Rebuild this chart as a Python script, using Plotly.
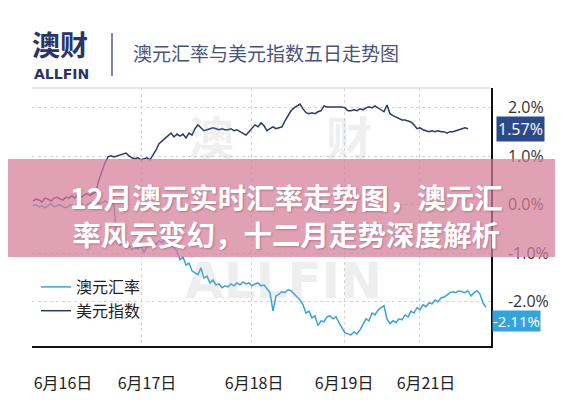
import plotly.graph_objects as go

# ---------------- data ----------------
series_names = ["澳元汇率", "美元指数"]

# percentage change, sampled at equal intervals over the five trading days
aud_rate = [
    -0.02, 0.00, -0.04, -0.02, -0.06, -0.02, 0.02, -0.04, -0.02, 0.00,
    -0.04, -0.06, -0.02, 0.00, -0.04, -0.02, 0.02, -0.02, 0.00, 0.04,
    0.02, 0.06, 0.02, 0.04, 0.08, 0.04, 0.06, 0.02, -0.78, -0.84,
    -0.80, -0.89, -0.85, -0.93, -0.87, -0.91, -0.82, -0.99, -0.85, -0.80,
    -0.76, -0.82, -0.74, -0.78, -0.72, -0.74, -0.82, -0.89, -0.95, -1.13,
    -1.07, -1.24, -1.20, -1.36, -1.40, -1.44, -1.30, -1.51, -1.47, -1.61,
    -1.55, -1.65, -1.63, -1.71, -1.67, -1.69, -1.63, -1.67, -1.61, -1.65,
    -1.59, -1.63, -1.61, -1.67, -1.63, -1.61, -1.67, -1.65, -1.73, -1.81,
    -2.19, -1.88, -1.84, -1.79, -1.81, -1.75, -1.77, -1.84, -1.90, -1.96,
    -2.06, -2.23, -2.19, -2.33, -2.29, -2.49, -2.39, -2.41, -2.31, -2.29,
    -2.35, -2.31, -2.43, -2.54, -2.64, -2.66, -2.68, -2.62, -2.66, -2.58,
    -2.47, -2.35, -2.39, -2.23, -2.27, -2.17, -2.12, -2.08, -2.35, -2.45,
    -2.39, -2.43, -2.35, -2.37, -2.27, -2.31, -2.19, -2.23, -2.12, -2.16,
    -2.06, -2.10, -2.02, -2.04, -1.96, -2.00, -1.92, -1.90, -1.86, -1.81,
    -1.79, -1.81, -1.77, -1.79, -1.81, -1.77, -1.88, -1.81, -1.77, -1.84,
    -2.02, -2.11,
]

usd_index = [
    0.08, 0.12, 0.10, 0.06, 0.14, 0.12, 0.08, 0.14, 0.16, 0.12,
    0.10, 0.16, 0.14, 0.19, 0.14, 0.21, 0.16, 0.19, 0.23, 0.19,
    0.23, 0.27, 0.52, 0.72, 0.87, 0.99, 1.01, 0.99, 1.01, 1.03,
    1.05, 1.07, 1.01, 0.97, 0.95, 0.97, 0.93, 0.95, 0.97, 0.93,
    1.03, 1.13, 1.26, 1.32, 1.36, 1.42, 1.48, 1.40, 1.46, 1.42,
    1.46, 1.38, 1.48, 1.44, 1.57, 1.65, 1.59, 1.53, 1.55, 1.57,
    1.59, 1.57, 1.55, 1.57, 1.55, 1.55, 1.57, 1.53, 1.55, 1.51,
    1.48, 1.44, 1.51, 1.57, 1.65, 1.61, 1.69, 1.63, 1.53, 1.57,
    1.61, 1.57, 1.59, 1.61, 1.73, 1.84, 1.94, 2.00, 2.04, 2.08,
    1.98, 1.90, 1.88, 1.90, 1.88, 1.92, 1.94, 2.04, 2.02, 2.02,
    2.02, 2.02, 2.02, 2.02, 2.00, 1.94, 1.94, 1.96, 1.94, 1.98,
    1.96, 2.00, 2.02, 2.00, 2.04, 2.00, 1.96, 1.92, 2.06, 1.88,
    1.84, 1.81, 1.79, 1.75, 1.75, 1.73, 1.71, 1.65, 1.57, 1.59,
    1.55, 1.53, 1.51, 1.53, 1.51, 1.53, 1.51, 1.51, 1.48, 1.51,
    1.51, 1.53, 1.55, 1.57, 1.59, 1.57,
]

tick_labels = ["6月16日", "6月17日", "6月18日", "6月19日", "6月21日"]
label_sample_idx = [10, 38, 73.7, 103.7, 131]      # where the date labels sit
day_start_idx = [0, 36.3, 72.7, 103.7, 128.7]       # day boundaries (grid)
y_ticks = [2, 1, 0, -1, -2]

title_text = "澳元汇率与美元指数五日走势图"
banner_lines = ["12月澳元实时汇率走势图，澳元汇", "率风云变幻，十二月走势深度解析"]

# ---------------- styling ----------------
W, H = 563, 400
L, R, T, B = 24, 483, 80, 338
NAVY = "#2b3a67"
LIGHT = "#3aa3d5"
FONT = "Noto Sans CJK SC, Noto Sans, sans-serif"


def px_x(px):
    return (px - L) / (R - L)


def px_y(py):
    return (B - py) / (B - T)


fig = go.Figure()

fig.add_trace(go.Scatter(
    x=list(range(len(aud_rate))), y=aud_rate, mode="lines",
    name=series_names[0], line=dict(color=LIGHT, width=1.5),
))
fig.add_trace(go.Scatter(
    x=list(range(len(usd_index))), y=usd_index, mode="lines",
    name=series_names[1], line=dict(color=NAVY, width=1.5),
))
# invisible trace on overlay axis so the day grid lines are drawn
fig.add_trace(go.Scatter(
    x=[day_start_idx[0]], y=[0], xaxis="x2", mode="markers",
    marker=dict(opacity=0), showlegend=False, hoverinfo="skip",
))

x_range = [-0.33, 152.67]
y_range = [-2.91, 2.41]

WM = "rgba(170,170,170,0.2)"
annotations = []
# watermark (kept clear of the banner text)
annotations.append(dict(text="<b>澳　　财</b>", x=px_x(272), y=px_y(92), xref="paper", yref="paper",
                        showarrow=False, font=dict(size=46, color=WM, family=FONT)))
annotations.append(dict(text="<b>ALLFIN</b>", x=px_x(275), y=px_y(304), xref="paper", yref="paper",
                        showarrow=False, font=dict(size=50, color=WM, family="DejaVu Sans")))
# header logo
annotations.append(dict(text="<b>澳财</b>", x=px_x(22), y=px_y(36), xref="paper", yref="paper",
                        xanchor="left", yanchor="middle", showarrow=False,
                        font=dict(size=28, color="#2a3466", family=FONT)))
annotations.append(dict(text="<b>ALLFIN</b>", x=px_x(24), y=px_y(66), xref="paper", yref="paper",
                        xanchor="left", yanchor="middle", showarrow=False,
                        font=dict(size=14, color="#2a3466", family="DejaVu Sans")))
annotations.append(dict(text=title_text, x=px_x(123), y=px_y(45), xref="paper", yref="paper",
                        xanchor="left", yanchor="middle", showarrow=False,
                        font=dict(size=19, color="#4a5478", family=FONT)))
# last-value labels
annotations.append(dict(text=f"{usd_index[-1]:.2f}%", x=px_x(488), y=usd_index[-1], xref="paper", yref="y",
                        xanchor="left", yanchor="middle", showarrow=False, bgcolor="#2c4a8a",
                        borderpad=1, font=dict(size=16, color="white", family="Open Sans")))
annotations.append(dict(text=f"{aud_rate[-1]:.2f}%", x=px_x(484), y=aud_rate[-1], xref="paper", yref="y",
                        xanchor="left", yanchor="middle", yshift=-14, showarrow=False, bgcolor="#35a3dc",
                        borderpad=0, font=dict(size=15, color="white", family="Open Sans")))
# banner text (one two-line block)
annotations.append(dict(text="<b>" + "<br>".join(banner_lines) + "</b>", x=px_x(278), y=px_y(207),
                        xref="paper", yref="paper", xanchor="center", yanchor="middle",
                        showarrow=False, align="center",
                        font=dict(size=28.5, color="white", family=FONT,
                                  shadow="1px 1px 2px rgba(90,40,60,0.35)")))

shapes = [
    # header separator
    dict(type="line", xref="paper", yref="paper", x0=px_x(104), x1=px_x(104), y0=px_y(25), y1=px_y(68),
         line=dict(color="#2a3466", width=1.2)),
    # top border of plot
    dict(type="line", xref="paper", yref="paper", x0=px_x(24), x1=px_x(483), y0=1, y1=1,
         line=dict(color="#cfcfcf", width=1)),
    # pink banner
    dict(type="rect", xref="paper", yref="paper", x0=px_x(0), x1=px_x(563), y0=px_y(249), y1=px_y(151),
         fillcolor="rgba(214,125,152,0.72)", line=dict(width=0), layer="above"),
]

fig.update_layout(
    width=W, height=H,
    margin=dict(l=L, r=W - R, t=T, b=H - B),
    paper_bgcolor="white", plot_bgcolor="white",
    font=dict(family=FONT, color="#222"),
    showlegend=True,
    legend=dict(x=px_x(28), y=px_y(262), xanchor="left", yanchor="top",
                bgcolor="rgba(0,0,0,0)", font=dict(size=16, color="#222", family=FONT),
                tracegroupgap=0),
    xaxis=dict(range=x_range, tickvals=label_sample_idx, ticktext=tick_labels,
               showgrid=False, zeroline=False, showline=True, linecolor="#111", linewidth=2,
               ticks="", ticklabelstandoff=22, tickfont=dict(size=16, color="#222", family=FONT)),
    xaxis2=dict(range=x_range, overlaying="x", tickvals=day_start_idx, showticklabels=False,
                showgrid=True, gridcolor="#d6d6d6", griddash="dot", gridwidth=1,
                zeroline=False, showline=False, ticks=""),
    yaxis=dict(range=y_range, side="right", tickvals=y_ticks,
               ticktext=[f"{v:.1f}%" for v in y_ticks],
               showgrid=True, gridcolor="#d6d6d6", griddash="dot", gridwidth=1,
               zeroline=False, showline=True, linecolor="#111", linewidth=1.5,
               ticks="", ticklabelstandoff=12, tickfont=dict(size=16, color="#333", family="Open Sans")),
    annotations=annotations,
    shapes=shapes,
)

fig.write_html("out.html")
